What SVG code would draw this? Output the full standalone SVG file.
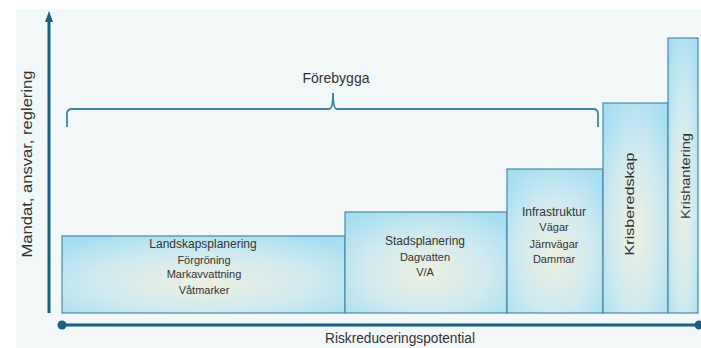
<svg xmlns="http://www.w3.org/2000/svg" width="701" height="348" viewBox="0 0 701 348">
<style>
.box{fill:url(#g);stroke:#4a8aa5;stroke-width:1.2}
.t{font-family:"Liberation Sans",Arial,sans-serif;fill:#333;text-anchor:middle}
.h{font-size:12px}
.s{font-size:11px}
.ax{stroke:#1b5f82;stroke-width:3;fill:none}
.br{stroke:#3a86a8;stroke-width:1.8;fill:none}
</style>
<defs>
<radialGradient id="g" cx="0.5" cy="0.6" r="0.7">
<stop offset="0" stop-color="#eef0e1"/>
<stop offset="0.55" stop-color="#cfeaf0"/>
<stop offset="1" stop-color="#a6ddf0"/>
</radialGradient>
<marker id="arr" markerWidth="8" markerHeight="10" refX="4" refY="1" orient="auto-start-reverse" markerUnits="userSpaceOnUse" viewBox="0 0 8 10">
<path d="M0,10 L4,0 L8,10 Z" fill="#1b5f82"/>
</marker>
</defs>
<rect x="0" y="0" width="701" height="348" fill="#ffffff"/>
<rect x="16" y="9" width="685" height="339" fill="#f2f7f8"/>

<g id="connectors">
<line class="ax" x1="49" y1="313" x2="49" y2="22"/>
<path d="M45,22 L49,11 L53,22 Z" fill="#1b5f82"/>
<line class="ax" x1="62" y1="325" x2="699" y2="325"/>
<circle cx="62" cy="325" r="4.5" fill="#1b5f82"/>
<circle cx="699" cy="325" r="4.5" fill="#1b5f82"/>
<path class="br" d="M67,127 L67,114 Q67,109 72,109 L329,109 Q333,109 333,93 Q333,109 337,109 L593,109 Q598,109 598,114 L598,127"/>
</g>

<g id="axis-y-label">
<text class="t" transform="translate(32,164) rotate(-90)" style="font-size:14px" textLength="187" lengthAdjust="spacingAndGlyphs">Mandat, ansvar, reglering</text>
</g>
<g id="axis-x-label">
<text class="t" x="400" y="343" style="font-size:14px" textLength="150" lengthAdjust="spacingAndGlyphs">Riskreduceringspotential</text>
</g>
<g id="forebygga">
<text class="t" x="336" y="83" style="font-size:14px">Förebygga</text>
</g>

<g id="landskapsplanering">
<rect class="box" x="62" y="236" width="283" height="77"/>
<text class="t h" x="203" y="248">Landskapsplanering</text>
<text class="t s" x="204" y="264">Förgröning</text>
<text class="t s" x="204" y="278">Markavvattning</text>
<text class="t s" x="204" y="294">Våtmarker</text>
</g>
<g id="stadsplanering">
<rect class="box" x="345" y="212" width="162" height="101"/>
<text class="t h" x="425" y="245">Stadsplanering</text>
<text class="t s" x="425" y="261">Dagvatten</text>
<text class="t s" x="425" y="276">V/A</text>
</g>
<g id="infrastruktur">
<rect class="box" x="507" y="169" width="96" height="144"/>
<text class="t h" x="554" y="216">Infrastruktur</text>
<text class="t s" x="554" y="231">Vägar</text>
<text class="t s" x="554" y="248">Järnvägar</text>
<text class="t s" x="554" y="263">Dammar</text>
</g>
<g id="krisberedskap">
<rect class="box" x="603" y="103" width="65" height="210"/>
<text class="t" transform="translate(634,204) rotate(-90)" style="font-size:13px" textLength="103" lengthAdjust="spacingAndGlyphs">Krisberedskap</text>
</g>
<g id="krishantering">
<rect class="box" x="668" y="38" width="30" height="275"/>
<text class="t" transform="translate(690,176) rotate(-90)" style="font-size:13px" textLength="86" lengthAdjust="spacingAndGlyphs">Krishantering</text>
</g>
</svg>
